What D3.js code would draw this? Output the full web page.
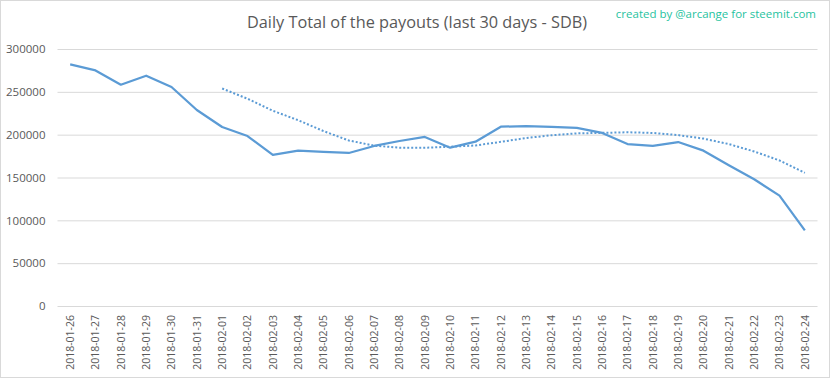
<!DOCTYPE html>
<html>
<head>
<meta charset="utf-8">
<title>Daily Total of the payouts</title>
<script src="https://d3js.org/d3.v7.min.js"></script>
<style>
  body { margin: 0; background: #fff; }
  svg text { font-family: "Open Sans", "Liberation Sans", sans-serif; }
</style>
</head>
<body>
<script>
// dates shown on the x axis
var days = ["2018-01-26", "2018-01-27", "2018-01-28", "2018-01-29", "2018-01-30", "2018-01-31",
  "2018-02-01", "2018-02-02", "2018-02-03", "2018-02-04", "2018-02-05", "2018-02-06",
  "2018-02-07", "2018-02-08", "2018-02-09", "2018-02-10", "2018-02-11", "2018-02-12",
  "2018-02-13", "2018-02-14", "2018-02-15", "2018-02-16", "2018-02-17", "2018-02-18",
  "2018-02-19", "2018-02-20", "2018-02-21", "2018-02-22", "2018-02-23", "2018-02-24"];

// daily total payouts (SDB)
var payouts = [282000, 275000, 258300, 268800, 255600, 228800, 208900, 198400, 176300, 181300,
  179800, 178600, 186800, 192600, 197300, 184800, 191800, 209300, 210100, 209000,
  208000, 202000, 189100, 186800, 191400, 181300, 164200, 147900, 128800, 88300];

// dotted trend line (starts at 2018-02-01)
var trend = [null, null, null, null, null, null, 253900, 242000, 227900, 216900,
  204200, 193200, 187200, 184800, 184700, 185900, 187400, 191600, 196100, 199300,
  201500, 202100, 202800, 202000, 199500, 195400, 189000, 180400, 169900, 155500];

var yTicks = [0, 50000, 100000, 150000, 200000, 250000, 300000];

var W = 833, H = 379;
var svg = d3.select("body").append("svg")
  .attr("width", W)
  .attr("height", H);

svg.append("rect")
  .attr("x", 0.5).attr("y", 0.5)
  .attr("width", 829).attr("height", 377)
  .attr("fill", "#fff")
  .attr("stroke", "#d9d9d9");

var x = d3.scaleBand().domain(days).range([57.5, 817.5]);
var y = d3.scaleLinear().domain([0, 300000]).range([306, 49]);
var cx = function (d) { return x(d) + x.bandwidth() / 2; };

// gridlines + y labels
var yAxis = svg.append("g")
  .attr("transform", "translate(57.5,0)")
  .call(d3.axisLeft(y).tickValues(yTicks).tickSize(-760).tickPadding(12).tickFormat(d3.format("d")));
yAxis.select(".domain").remove();
yAxis.selectAll(".tick line").attr("stroke", "#d9d9d9");
yAxis.selectAll(".tick text").attr("fill", "#595959").style("font-size", "11.5px");

// x labels
var xAxis = svg.append("g")
  .attr("transform", "translate(0,306)")
  .call(d3.axisBottom(x).tickSize(0));
xAxis.select(".domain").remove();
xAxis.selectAll(".tick text")
  .attr("fill", "#595959")
  .style("font-size", "10.5px")
  .attr("transform", "rotate(-90)")
  .attr("text-anchor", "end")
  .attr("x", -9)
  .attr("y", 0)
  .attr("dy", "0.35em");

// trend line
var trendLine = d3.line()
  .defined(function (d) { return d[1] !== null; })
  .x(function (d) { return cx(d[0]); })
  .y(function (d) { return y(d[1]); });
svg.append("path")
  .datum(days.map(function (d, i) { return [d, trend[i]]; }))
  .attr("fill", "none")
  .attr("stroke", "#5b9bd5")
  .attr("stroke-width", 2)
  .attr("stroke-dasharray", "2,2")
  .attr("d", trendLine);

// payout line
var valueLine = d3.line()
  .x(function (d) { return cx(d[0]); })
  .y(function (d) { return y(d[1]); });
svg.append("path")
  .datum(days.map(function (d, i) { return [d, payouts[i]]; }))
  .attr("fill", "none")
  .attr("stroke", "#5b9bd5")
  .attr("stroke-width", 2.25)
  .attr("stroke-linejoin", "round")
  .attr("d", valueLine);

// titles
svg.append("text")
  .attr("x", 417).attr("y", 28)
  .attr("text-anchor", "middle")
  .attr("fill", "#595959")
  .style("font-size", "16.3px")
  .text("Daily Total of the payouts (last 30 days - SDB)");

svg.append("text")
  .attr("x", 816).attr("y", 18)
  .attr("text-anchor", "end")
  .attr("fill", "#27c3a0")
  .style("font-size", "11.5px")
  .text("created by @arcange for steemit.com");
</script>
</body>
</html>
